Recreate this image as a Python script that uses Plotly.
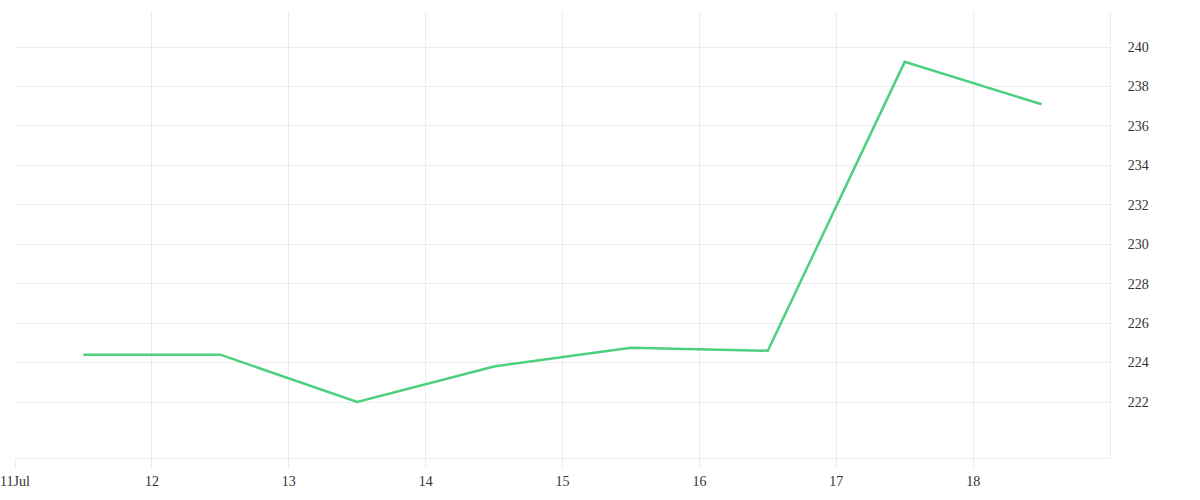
import plotly.graph_objects as go

# daily values, plotted at midday
dates = ["2023-07-11 12:00", "2023-07-12 12:00", "2023-07-13 12:00", "2023-07-14 12:00",
         "2023-07-15 12:00", "2023-07-16 12:00", "2023-07-17 12:00", "2023-07-18 12:00"]
values = [224.4, 224.4, 222.0, 223.8, 224.75, 224.6, 239.25, 237.1]

tick_dates = ["2023-07-11", "2023-07-12", "2023-07-13", "2023-07-14",
              "2023-07-15", "2023-07-16", "2023-07-17", "2023-07-18"]
tick_labels = ["11Jul", "12", "13", "14", "15", "16", "17", "18"]
y_ticks = [222, 224, 226, 228, 230, 232, 234, 236, 238, 240]

grid = "#ececec"

fig = go.Figure(go.Scatter(x=dates, y=values, mode="lines",
                           line=dict(color="#4cd07d", width=2.5)))

fig.update_layout(
    width=1200, height=500,
    margin=dict(l=15, r=90, t=12, b=42, autoexpand=False),
    plot_bgcolor="white", paper_bgcolor="white",
    showlegend=False,
    font=dict(family="Liberation Serif", size=14, color="#333"),
)
fig.update_xaxes(
    range=["2023-07-11", "2023-07-19"],
    tickvals=tick_dates, ticktext=tick_labels,
    showgrid=True, gridcolor=grid, gridwidth=1,
    ticks="outside", ticklen=10, tickcolor=grid,
    showline=True, linecolor=grid, linewidth=1,
    zeroline=False, automargin=False, ticklabeloverflow="allow",
)
fig.update_yaxes(
    side="right", range=[219.16, 241.78],
    tickvals=y_ticks,
    showgrid=True, gridcolor=grid, gridwidth=1,
    showline=True, linecolor=grid, linewidth=1,
    ticks="outside", ticklen=14, tickcolor="rgba(0,0,0,0)",
    zeroline=False, automargin=False,
)

# drop the page's default body margin so the figure sits at the corner
fig.write_html("out.html", config={"displayModeBar": False},
               post_script="document.body.style.margin='0px';")
